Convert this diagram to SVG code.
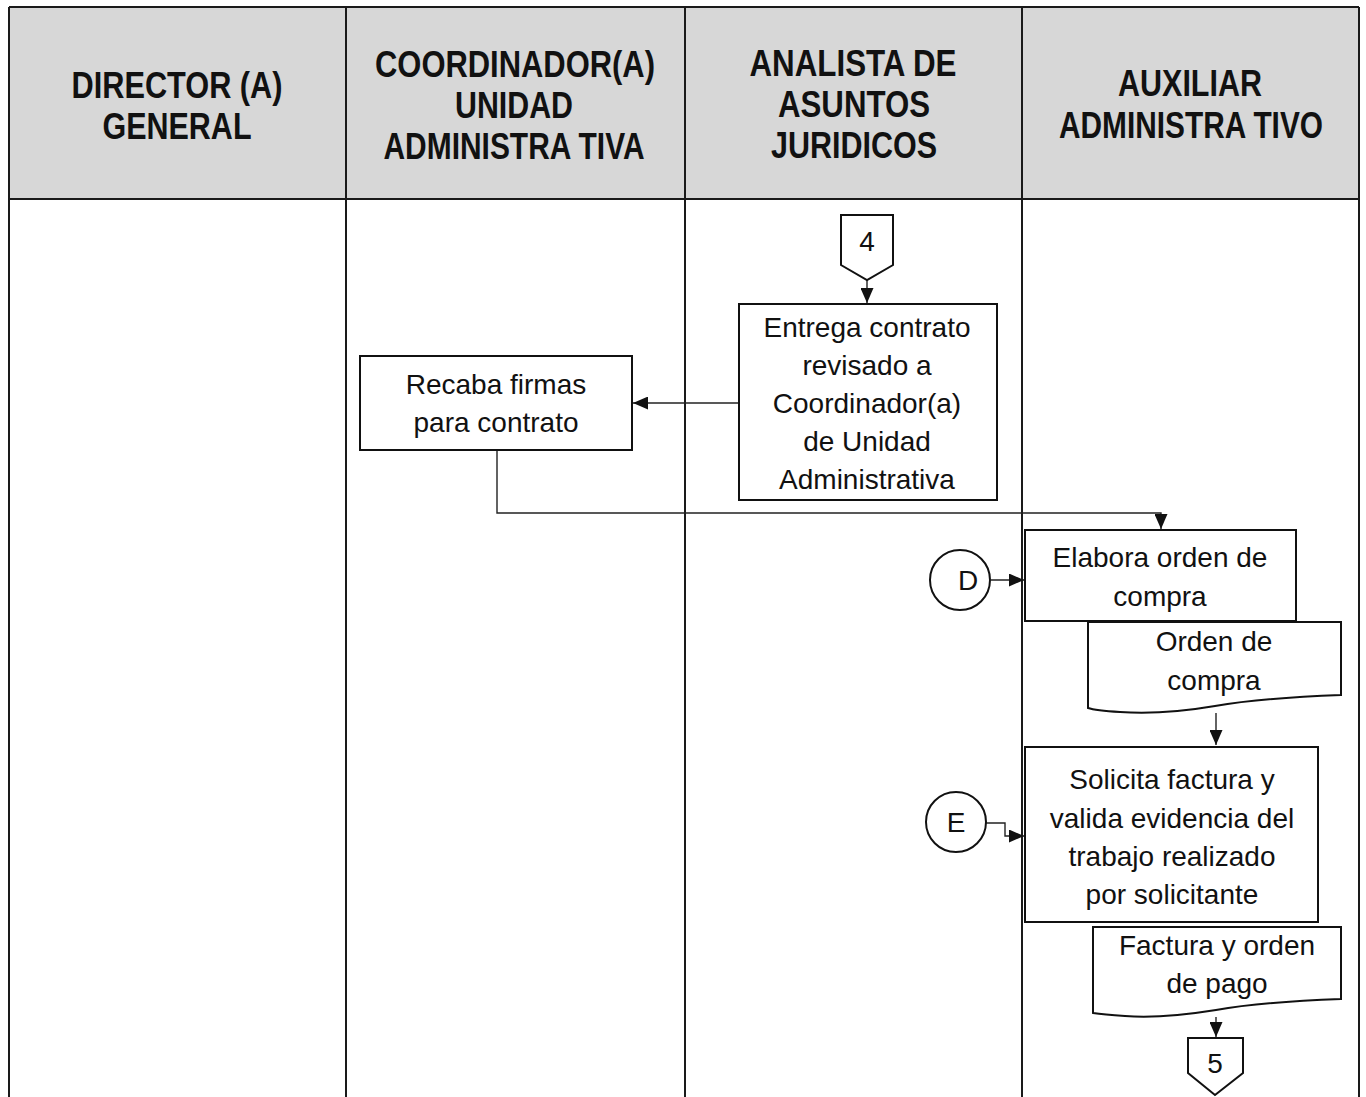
<svg xmlns="http://www.w3.org/2000/svg" width="1366" height="1097" viewBox="0 0 1366 1097">
<defs>
<style>
.hdr{fill:#d7d7d7;stroke:none}
.grid{stroke:#1a1a1a;stroke-width:2;fill:none}
.box{fill:#fff;stroke:#111;stroke-width:2}
.ht{font-family:"Liberation Sans",Arial,sans-serif;font-weight:bold;font-size:36px;fill:#111;text-anchor:middle}
.bt{font-family:"Liberation Sans",Arial,sans-serif;font-size:28px;fill:#111;text-anchor:middle}
.conn{stroke:#222;stroke-width:1.4;fill:none}
</style>
<marker id="arr" markerWidth="15" markerHeight="13" refX="15" refY="6.5" orient="auto" markerUnits="userSpaceOnUse">
<path d="M0,0 L15,6.5 L0,13 Z" fill="#111"/>
</marker>
</defs>
<rect x="0" y="0" width="1366" height="1097" fill="#fff"/>
<g id="lanes">
<rect class="hdr" x="9" y="7" width="1350" height="192"/>
<path class="grid" d="M9,7 H1359 M9,199 H1359 M9,7 V1097 M346,7 V1097 M685,7 V1097 M1022,7 V1097 M1359,7 V1097"/>
<text class="ht" x="177" y="98" textLength="211" lengthAdjust="spacingAndGlyphs">DIRECTOR (A)</text>
<text class="ht" x="177" y="139" textLength="149" lengthAdjust="spacingAndGlyphs">GENERAL</text>
<text class="ht" x="515" y="77" textLength="280" lengthAdjust="spacingAndGlyphs">COORDINADOR(A)</text>
<text class="ht" x="514" y="118" textLength="118" lengthAdjust="spacingAndGlyphs">UNIDAD</text>
<text class="ht" x="514" y="159" textLength="261" lengthAdjust="spacingAndGlyphs">ADMINISTRA TIVA</text>
<text class="ht" x="853" y="76" textLength="207" lengthAdjust="spacingAndGlyphs">ANALISTA DE</text>
<text class="ht" x="854" y="117" textLength="152" lengthAdjust="spacingAndGlyphs">ASUNTOS</text>
<text class="ht" x="854" y="158" textLength="166" lengthAdjust="spacingAndGlyphs">JURIDICOS</text>
<text class="ht" x="1190" y="96" textLength="144" lengthAdjust="spacingAndGlyphs">AUXILIAR</text>
<text class="ht" x="1191" y="138" textLength="264" lengthAdjust="spacingAndGlyphs">ADMINISTRA TIVO</text>
</g>
<g id="connectors">
<path class="conn" d="M867,280 V303" marker-end="url(#arr)"/>
<path class="conn" d="M739,403 H633" marker-end="url(#arr)"/>
<path class="conn" d="M497,450 V513 H1161 V529" marker-end="url(#arr)"/>
<path class="conn" d="M991,580 H1024" marker-end="url(#arr)"/>
<path class="conn" d="M1216,713 V745" marker-end="url(#arr)"/>
<path class="conn" d="M986,823 H1005 V836 H1024" marker-end="url(#arr)"/>
<path class="conn" d="M1216,1017 V1037" marker-end="url(#arr)"/>
</g>
<g id="n4">
<path class="box" d="M841,215 H893 V265 L867,280 L841,265 Z"/>
<text class="bt" x="867" y="251">4</text>
</g>
<g id="entrega">
<rect class="box" x="739" y="304" width="258" height="196"/>
<text class="bt" x="867" y="337">Entrega contrato</text>
<text class="bt" x="867" y="375">revisado a</text>
<text class="bt" x="867" y="413">Coordinador(a)</text>
<text class="bt" x="867" y="451">de Unidad</text>
<text class="bt" x="867" y="489">Administrativa</text>
</g>
<g id="recaba">
<rect class="box" x="360" y="356" width="272" height="94"/>
<text class="bt" x="496" y="394">Recaba firmas</text>
<text class="bt" x="496" y="432">para contrato</text>
</g>
<g id="d">
<circle class="box" cx="960" cy="580" r="30"/>
<text class="bt" x="968" y="590">D</text>
</g>
<g id="elabora">
<rect class="box" x="1025" y="530" width="271" height="91"/>
<text class="bt" x="1160" y="567">Elabora orden de</text>
<text class="bt" x="1160" y="606">compra</text>
</g>
<g id="orden">
<path class="box" d="M1088,622 H1341 V695 C1290,697 1250,700 1215,706 C1180,712 1150,714 1120,712 C1104,711 1094,710 1088,708 Z"/>
<text class="bt" x="1214" y="651">Orden de</text>
<text class="bt" x="1214" y="690">compra</text>
</g>
<g id="e">
<circle class="box" cx="956" cy="822" r="30"/>
<text class="bt" x="956" y="832">E</text>
</g>
<g id="solicita">
<rect class="box" x="1025" y="747" width="293" height="175"/>
<text class="bt" x="1172" y="789">Solicita factura y</text>
<text class="bt" x="1172" y="828">valida evidencia del</text>
<text class="bt" x="1172" y="866">trabajo realizado</text>
<text class="bt" x="1172" y="904">por solicitante</text>
</g>
<g id="factura">
<path class="box" d="M1093,927 H1341 V999 C1290,1001 1250,1004 1216,1010 C1185,1015 1150,1018 1125,1016 C1108,1015 1099,1014 1093,1013 Z"/>
<text class="bt" x="1217" y="955">Factura y orden</text>
<text class="bt" x="1217" y="993">de pago</text>
</g>
<g id="n5">
<path class="box" d="M1188,1038 H1243 V1073 L1215,1095 L1188,1073 Z"/>
<text class="bt" x="1215" y="1073">5</text>
</g>
</svg>
